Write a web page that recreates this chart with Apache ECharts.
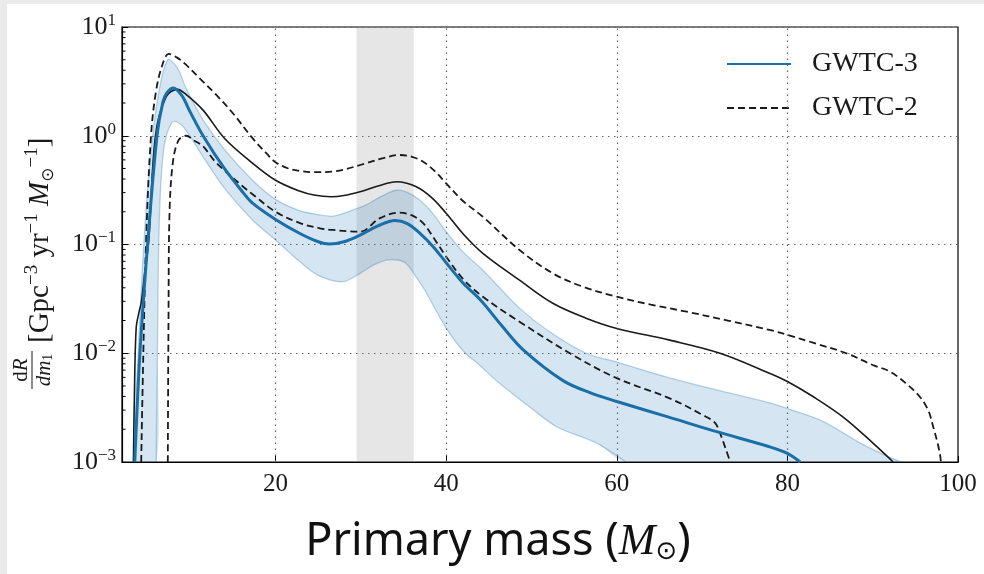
<!DOCTYPE html>
<html>
<head>
<meta charset="utf-8">
<script src="https://cdn.jsdelivr.net/npm/echarts@6/dist/echarts.min.js"></script>
<style>
html, body { margin: 0; padding: 0; background: #ebebeb; }
#main { width: 984px; height: 574px; }
</style>
</head>
<body>
<div id="main"></div>
<script>
// GWTC-3 median
var g3Mass = [3.5, 4.1, 5.0, 6.1, 6.8, 7.3, 8.0, 9.0, 10.0, 11.5, 14, 16.2, 17.3, 20, 22.8, 25, 26.3, 28, 29.9, 32, 34.0, 35.5, 36.9, 38.5, 40, 42, 44, 46.5, 49, 53.7, 57, 60, 66, 71.7, 77.9, 80, 81.5];
var g3Rate = [0.001, 0.01, 0.1, 1.0, 2.05, 2.5, 2.75, 2.35, 1.65, 1.0, 0.5, 0.3, 0.24, 0.17, 0.127, 0.106, 0.101, 0.106, 0.122, 0.148, 0.166, 0.155, 0.127, 0.095, 0.068, 0.044, 0.031, 0.018, 0.0108, 0.0056, 0.0043, 0.0036, 0.0026, 0.0019, 0.00138, 0.0012, 0.001];
// GWTC-3 90% band, upper edge
var g3HiMass = [3.5, 4.0, 4.8, 5.6, 6.5, 7.4, 8.5, 9.5, 11.5, 14, 17.3, 20, 22.8, 25.2, 26.7, 28.5, 30.6, 32.5, 34.2, 35.5, 36.9, 38.5, 40, 42, 44.3, 48.6, 52, 56.4, 60, 66, 71.7, 77.9, 80, 84, 88.5, 91, 93.2];
var g3Hi = [0.001, 0.015, 0.2, 1.0, 3.0, 5.0, 4.2, 2.75, 1.4, 0.75, 0.39, 0.26, 0.205, 0.187, 0.182, 0.2, 0.231, 0.28, 0.317, 0.3, 0.256, 0.19, 0.131, 0.085, 0.058, 0.026, 0.016, 0.01, 0.0083, 0.006, 0.0046, 0.0035, 0.0031, 0.0024, 0.0015, 0.0012, 0.001];
// GWTC-3 90% band, lower edge
var g3LoMass = [6.0, 6.15, 6.3, 6.5, 6.8, 7.2, 8.0, 9.0, 10, 11.5, 14, 17.3, 20, 22.8, 25, 27.9, 29.9, 31.5, 33, 34.3, 35.3, 36.5, 37.7, 40, 42, 43.9, 46, 49.8, 53, 57.6, 61.1];
var g3Lo = [0.001, 0.01, 0.1, 0.3, 0.65, 1.0, 1.35, 1.25, 0.98, 0.64, 0.33, 0.168, 0.11, 0.07, 0.052, 0.0455, 0.0543, 0.065, 0.072, 0.072, 0.067, 0.05, 0.0356, 0.017, 0.0105, 0.0078, 0.0055, 0.0032, 0.0021, 0.0015, 0.001];
// GWTC-2 median
var g2MedMass = [3.34, 3.45, 3.66, 4.0, 4.25, 4.6, 5.14, 5.92, 7.18, 8.5, 9.5, 11.5, 14, 17.3, 20, 22.8, 24.5, 26.5, 28, 29.9, 32, 34.2, 36.5, 38.3, 40, 42, 44.3, 48.6, 52.5, 56.4, 60, 66.2, 72.1, 77.9, 80, 83, 86.5, 90, 92.4];
var g2Med = [0.001, 0.004, 0.017, 0.024, 0.029, 0.05, 0.11, 1.0, 2.29, 2.67, 2.4, 1.72, 0.95, 0.56, 0.39, 0.31, 0.285, 0.275, 0.282, 0.306, 0.345, 0.378, 0.34, 0.27, 0.194, 0.125, 0.083, 0.047, 0.0288, 0.021, 0.0169, 0.0132, 0.01, 0.00655, 0.0055, 0.004, 0.0026, 0.0015, 0.001];
// GWTC-2 90% interval, upper
var g2HiMass = [4.25, 4.5, 4.83, 5.4, 6.0, 6.78, 7.48, 8.5, 9.5, 11.1, 13, 15, 17.3, 19, 20, 21.5, 22.8, 24.5, 26.7, 30.6, 32.5, 34.5, 36, 37.3, 38.7, 40, 42, 44.3, 48.6, 52.5, 56, 60, 64, 68.2, 73, 77.9, 80.1, 83, 86.9, 90, 92, 94, 95.5, 96.5, 97.1, 97.6, 97.9, 98.0];
var g2Hi = [0.001, 0.01, 0.11, 1.0, 2.6, 4.6, 5.65, 5.2, 4.5, 3.37, 2.4, 1.61, 0.95, 0.68, 0.57, 0.5, 0.475, 0.462, 0.468, 0.558, 0.62, 0.665, 0.64, 0.577, 0.47, 0.365, 0.25, 0.18, 0.089, 0.0543, 0.041, 0.0331, 0.028, 0.0241, 0.02, 0.0164, 0.0147, 0.0125, 0.01, 0.0078, 0.0068, 0.0052, 0.004, 0.003, 0.0021, 0.0015, 0.00116, 0.001];
// GWTC-2 90% interval, lower
var g2LoMass = [7.37, 7.45, 7.57, 7.95, 8.6, 9.5, 10.5, 11.5, 13, 16.2, 17.3, 20, 22.8, 25.2, 26.7, 29.9, 32.2, 34.5, 36, 37.3, 38.7, 40, 42, 44.3, 48.6, 54.5, 60, 66.2, 70.1, 71.5, 72.1, 72.8, 73.3];
var g2Lo = [0.001, 0.02, 0.194, 0.558, 0.9, 1.0, 0.9, 0.8, 0.57, 0.34, 0.29, 0.2, 0.158, 0.141, 0.136, 0.131, 0.174, 0.196, 0.185, 0.157, 0.11, 0.0773, 0.048, 0.0331, 0.0195, 0.01, 0.0059, 0.00385, 0.0027, 0.0023, 0.00184, 0.0013, 0.001];

var xTicks = [20, 40, 60, 80, 100];
var xGrid = [20, 40, 60, 80];
var yMinorTicks = [0.002, 0.003, 0.004, 0.005, 0.006, 0.007, 0.008, 0.009,
                   0.02, 0.03, 0.04, 0.05, 0.06, 0.07, 0.08, 0.09,
                   0.2, 0.3, 0.4, 0.5, 0.6, 0.7, 0.8, 0.9,
                   2, 3, 4, 5, 6, 7, 8, 9];
var peakRange = [29.5, 36.2];

var serif = 'Liberation Serif';
var blue = '#1b6fa8';
var ink = '#1a1a1a';
var dash = [7, 4];

function pairs(xs, ys) {
    return xs.map(function (x, i) { return [x, ys[i]]; });
}

// y axis title, drawn rotated so the dR/dm1 fraction can be stacked
var yTitle = {
    type: 'group', x: 40, y: 245, rotation: Math.PI / 2, silent: true,
    children: [
        {
            type: 'text', x: -125, y: -19,
            style: {
                text: '{u|d}{i|R}', align: 'center', verticalAlign: 'middle', fill: ink,
                rich: {
                    u: {fontFamily: serif, fontSize: 21},
                    i: {fontFamily: serif, fontStyle: 'italic', fontSize: 21}
                }
            }
        },
        {type: 'line', shape: {x1: -144, y1: -8, x2: -106, y2: -8}, style: {stroke: ink, lineWidth: 1}},
        {
            type: 'text', x: -125, y: 4,
            style: {
                text: '{i|dm}{s|1}', align: 'center', verticalAlign: 'middle', fill: ink,
                rich: {
                    i: {fontFamily: serif, fontStyle: 'italic', fontSize: 21, lineHeight: 22},
                    s: {fontFamily: serif, fontSize: 14, lineHeight: 12, verticalAlign: 'bottom'}
                }
            }
        },
        {
            type: 'text', x: -98, y: 0,
            style: {
                text: '[Gpc{p|−3} yr{p|−1} {i|M}{s|⊙}{p|−1}]', align: 'left', verticalAlign: 'middle',
                fill: ink, fontFamily: serif, fontSize: 29,
                rich: {
                    i: {fontFamily: serif, fontStyle: 'italic', fontSize: 29, lineHeight: 34},
                    s: {fontFamily: 'DejaVu Sans', fontSize: 17, lineHeight: 18, verticalAlign: 'bottom'},
                    p: {fontFamily: serif, fontSize: 19, lineHeight: 18, verticalAlign: 'top'}
                }
            }
        }
    ]
};

var myChart = echarts.init(document.getElementById('main'));

var option = {
    animation: false,
    backgroundColor: '#ebebeb',
    graphic: [{
        type: 'rect', left: 7, top: 4, z: -10, silent: true,
        shape: {width: 977, height: 570},
        style: {fill: '#ffffff'}
    }, yTitle],
    grid: {
        left: 122, right: 26, top: 27, bottom: 112,
        show: true, borderColor: '#000', borderWidth: 1.2, backgroundColor: 'transparent'
    },
    legend: {
        left: 721, top: 43, orient: 'vertical', itemGap: 12,
        itemWidth: 64, itemHeight: 14,
        data: ['GWTC-3', 'GWTC-2'],
        itemStyle: {opacity: 0},
        textStyle: {fontFamily: serif, fontSize: 28, color: ink, lineHeight: 32, padding: [0, 0, 0, 16]}
    },
    xAxis: {
        type: 'value', min: 2, max: 100,
        name: 'Primary mass ({mi|M}{ms|⊙})',
        nameLocation: 'middle', nameGap: 58,
        nameTextStyle: {
            fontFamily: 'Noto Sans', fontSize: 45, color: '#111', padding: [0, 84, 0, 0],
            rich: {
                mi: {fontFamily: serif, fontStyle: 'italic', fontSize: 44, color: '#111'},
                ms: {fontFamily: 'DejaVu Sans', fontSize: 26, color: '#111', verticalAlign: 'bottom', padding: [16, 0, 0, 0]}
            }
        },
        axisLine: {lineStyle: {color: '#000', width: 1.2}},
        axisTick: {customValues: xTicks, inside: true, length: 6, lineStyle: {color: '#000'}},
        axisLabel: {customValues: xTicks, fontFamily: serif, fontSize: 25, color: ink, margin: 10},
        splitLine: {show: false}
    },
    yAxis: {
        type: 'log', logBase: 10, min: 0.001, max: 10,
        axisLine: {lineStyle: {color: '#000', width: 1.2}},
        axisTick: {inside: true, length: 6, lineStyle: {color: '#000'}},
        axisLabel: {
            margin: 6,
            formatter: function (v) {
                var e = Math.round(Math.log10(v));
                return '{b|10}{e|' + (e < 0 ? '−' + (-e) : e) + '}';
            },
            rich: {
                b: {fontFamily: serif, fontSize: 26, color: ink, lineHeight: 30},
                e: {fontFamily: serif, fontSize: 17, color: ink, lineHeight: 18, verticalAlign: 'top'}
            }
        },
        splitLine: {lineStyle: {color: '#666', type: [1.5, 4.5], width: 1.2}}
    },
    series: [
        {
            name: 'marks', type: 'line', data: [], z: 1, silent: true,
            markArea: {
                silent: true,
                itemStyle: {color: 'rgba(140,140,140,0.22)'},
                data: [[{xAxis: peakRange[0]}, {xAxis: peakRange[1]}]]
            },
            markLine: {
                silent: true, symbol: 'none', label: {show: false},
                lineStyle: {color: '#666', type: [1.5, 4.5], width: 1.2},
                data: xGrid.map(function (v) { return {xAxis: v}; })
            }
        },
        {
            name: 'band', type: 'custom', z: 2, silent: true, clip: true,
            data: [[50, 1]],
            renderItem: function (params, api) {
                var up = g3HiMass.map(function (x, i) { return api.coord([x, g3Hi[i]]); });
                var lo = g3LoMass.map(function (x, i) { return api.coord([x, g3Lo[i]]); });
                var poly = up.concat(lo.slice().reverse());
                return {
                    type: 'group',
                    children: [
                        {type: 'polygon', shape: {points: poly, smooth: 0.3}, style: {fill: 'rgba(31,119,180,0.19)'}},
                        {type: 'polyline', shape: {points: up, smooth: 0.3}, style: {stroke: 'rgba(31,119,180,0.3)', lineWidth: 1.3, fill: null}},
                        {type: 'polyline', shape: {points: lo, smooth: 0.3}, style: {stroke: 'rgba(31,119,180,0.3)', lineWidth: 1.3, fill: null}}
                    ]
                };
            }
        },
        {
            name: 'GWTC-2 median', type: 'line', z: 3, symbol: 'none', smooth: 0.35,
            lineStyle: {color: ink, width: 1.6}, itemStyle: {color: ink},
            data: pairs(g2MedMass, g2Med)
        },
        {
            name: 'GWTC-2', type: 'line', z: 3, symbol: 'none', smooth: 0.35,
            lineStyle: {color: ink, width: 1.8, type: dash}, itemStyle: {color: ink},
            data: pairs(g2HiMass, g2Hi)
        },
        {
            name: 'GWTC-2 lower', type: 'line', z: 3, symbol: 'none', smooth: 0.35,
            lineStyle: {color: ink, width: 1.8, type: dash}, itemStyle: {color: ink},
            data: pairs(g2LoMass, g2Lo)
        },
        {
            name: 'GWTC-3', type: 'line', z: 4, symbol: 'none', smooth: 0.35,
            lineStyle: {color: blue, width: 3}, itemStyle: {color: blue},
            data: pairs(g3Mass, g3Rate)
        },
        {
            name: 'minor', type: 'custom', z: 5, silent: true, clip: false,
            data: yMinorTicks.map(function (v) { return [2, v]; }),
            renderItem: function (params, api) {
                var p = api.coord([2, api.value(1)]);
                return {
                    type: 'line',
                    shape: {x1: p[0], y1: p[1], x2: p[0] + 3.5, y2: p[1]},
                    style: {stroke: '#000', lineWidth: 1}
                };
            }
        }
    ]
};

myChart.setOption(option);
</script>
</body>
</html>
